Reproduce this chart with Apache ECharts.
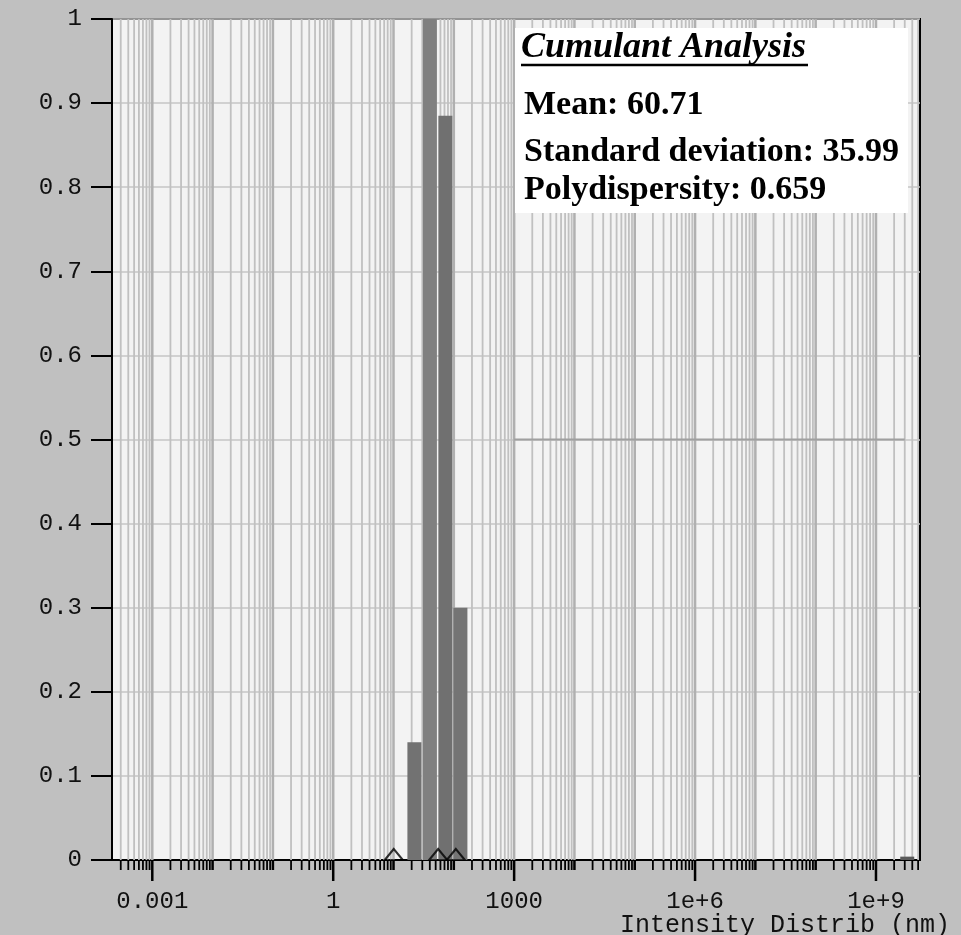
<!DOCTYPE html>
<html>
<head>
<meta charset="utf-8">
<script src="https://cdn.jsdelivr.net/npm/echarts@6/dist/echarts.min.js"></script>
<style>
html,body{margin:0;padding:0;background:#c0c0c0;}
#chart{width:961px;height:935px;}
</style>
</head>
<body>
<div id="chart"></div>
<script>
// ---- data ----
const barSizes = [22.2, 40.1, 72.4, 128.6, 3.3e9];      // nm
const barValues = [0.14, 1.0, 0.885, 0.30, 0.004];
const barColors = ['#727272', '#808080', '#707070', '#747474', '#5a5a5a'];
const markerSizes = [10.1, 55, 108];                    // nm
const markerValues = [0, 0, 0];
const refLineSizes = [1000, 3e9];
const refLineValues = [0.5, 0.5];
const xTickValues = [0.001, 1, 1000, 1e6, 1e9];
const xTickLabels = ['0.001', '1', '1000', '1e+6', '1e+9'];
const yTickValues = [0, 0.1, 0.2, 0.3, 0.4, 0.5, 0.6, 0.7, 0.8, 0.9, 1];
const yTickLabels = ['0', '0.1', '0.2', '0.3', '0.4', '0.5', '0.6', '0.7', '0.8', '0.9', '1'];
const gridDecades = [-4, -3, -2, -1, 0, 1, 2, 3, 4, 5, 6, 7, 8, 9];
const gridMultipliers = [1, 2, 3, 4, 5, 6, 7, 8, 9];
const xMin = Math.pow(10, -3.668);
const xMax = Math.pow(10, 9.73);
const infoTitle = 'Cumulant Analysis';
const infoLines = ['Mean: 60.71', 'Standard deviation: 35.99', 'Polydispersity: 0.659'];
const xAxisTitle = 'Intensity Distrib (nm)';

// gridline / minor-tick positions (log grid 1..9 x 10^k)
const gridValues = [];
gridDecades.forEach(k => gridMultipliers.forEach(m => {
  const v = m * Math.pow(10, k);
  if (v > xMin && v < xMax) gridValues.push([v, 0]);
}));
const majorExps = xTickValues.map(v => Math.round(Math.log10(v)));

const monoFont = '"Liberation Mono", "DejaVu Sans Mono", monospace';
const serifFont = '"Liberation Serif", "DejaVu Serif", serif';

const chart = echarts.init(document.getElementById('chart'), null, {renderer: 'canvas'});
const option = {
  backgroundColor: '#c0c0c0',
  animation: false,
  grid: {
    left: 112, top: 19, right: 41, bottom: 75,
    show: true, backgroundColor: '#f3f3f3', borderColor: '#000', borderWidth: 2
  },
  xAxis: {
    type: 'log', logBase: 1000, min: xMin, max: xMax,
    axisLine: {show: true, lineStyle: {color: '#000', width: 2}},
    axisTick: {show: false},
    splitLine: {show: false},
    axisLabel: {
      showMinLabel: false, showMaxLabel: false,
      margin: 30, color: '#111', fontFamily: monoFont, fontSize: 24,
      formatter: v => {
        const i = majorExps.indexOf(Math.round(Math.log10(v)));
        return i >= 0 ? xTickLabels[i] : '';
      }
    }
  },
  yAxis: {
    type: 'value', min: 0, max: 1, interval: 0.1,
    axisLine: {show: true, lineStyle: {color: '#000', width: 2}},
    axisTick: {show: true, length: 21, lineStyle: {color: '#000', width: 2}},
    splitLine: {show: true, lineStyle: {color: '#c6c6c6', width: 1.5}},
    axisLabel: {
      margin: 30, color: '#111', fontFamily: monoFont, fontSize: 24,
      formatter: v => {
        const i = yTickValues.findIndex(t => Math.abs(t - v) < 1e-6);
        return i >= 0 ? yTickLabels[i] : '';
      }
    }
  },
  series: [
    {
      type: 'custom', z: 1, silent: true,
      data: gridValues,
      encode: {x: 0, y: 1},
      renderItem: (params, api) => {
        const v = api.value(0);
        const pb = api.coord([v, 0]);
        const pt = api.coord([v, 1]);
        const e = Math.log10(v);
        const isDecade = Math.abs(e - Math.round(e)) < 1e-9;
        const isMajor = isDecade && majorExps.indexOf(Math.round(e)) >= 0;
        return {
          type: 'group',
          children: [
            {type: 'line', shape: {x1: pb[0], y1: pt[1], x2: pb[0], y2: pb[1]},
             style: {stroke: isDecade ? '#b0b0b0' : '#c0c0c0', lineWidth: isDecade ? 2.5 : 1.8}},
            {type: 'line', shape: {x1: pb[0], y1: pb[1], x2: pb[0], y2: pb[1] + (isMajor ? 21 : 10)},
             style: {stroke: '#000', lineWidth: isDecade ? 2.5 : 1.8}}
          ]
        };
      }
    },
    {
      type: 'line', z: 2, silent: true, symbol: 'none',
      data: refLineSizes.map((s, i) => [s, refLineValues[i]]),
      lineStyle: {color: '#a0a0a0', width: 2}
    },
    {
      type: 'bar', z: 3, barWidth: 14, silent: true,
      data: barSizes.map((s, i) => ({value: [s, barValues[i]], itemStyle: {color: barColors[i]}}))
    },
    {
      type: 'scatter', z: 4, silent: true,
      symbol: 'triangle', symbolSize: [18, 11], symbolOffset: [0, -5.5],
      itemStyle: {color: 'rgba(0,0,0,0)', borderColor: '#000', borderWidth: 2},
      data: markerSizes.map((s, i) => [s, markerValues[i]])
    }
  ],
  graphic: [
    {type: 'rect', left: 515, top: 28, z: 10, shape: {width: 393, height: 185}, style: {fill: '#ffffff'}},
    {type: 'text', left: 521, top: 30, z: 11,
     style: {text: infoTitle, fill: '#000', font: 'italic bold 36px ' + serifFont}},
    {type: 'line', z: 11, shape: {x1: 521, y1: 65, x2: 808, y2: 65}, style: {stroke: '#000', lineWidth: 2.5}},
    {type: 'text', left: 524, top: 88, z: 11,
     style: {text: infoLines[0], fill: '#000', font: 'bold 34px ' + serifFont}},
    {type: 'text', left: 524, top: 135, z: 11,
     style: {text: infoLines[1], fill: '#000', font: 'bold 34px ' + serifFont}},
    {type: 'text', left: 524, top: 173, z: 11,
     style: {text: infoLines[2], fill: '#000', font: 'bold 34px ' + serifFont}},
    {type: 'text', left: 620, top: 913, z: 11,
     style: {text: xAxisTitle, fill: '#111', font: '25px ' + monoFont}}
  ]
};
chart.setOption(option);
</script>
</body>
</html>
